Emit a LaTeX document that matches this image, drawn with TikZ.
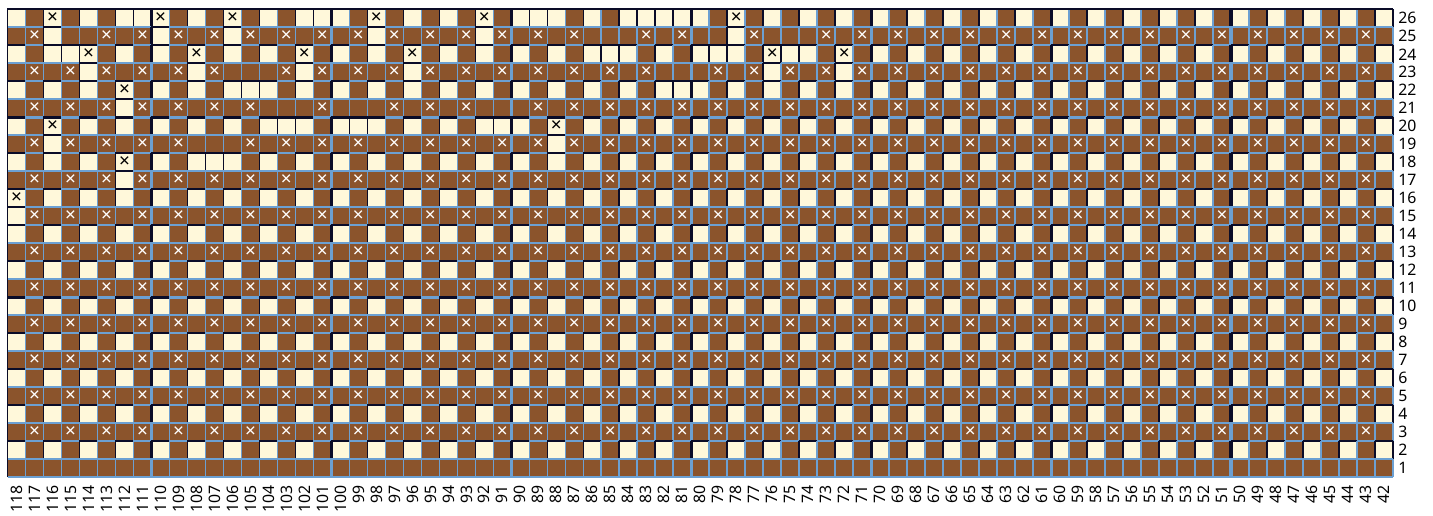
\documentclass[tikz,border=0pt]{standalone}
\usepackage{fontspec}
\setmainfont{Noto Sans}
\usetikzlibrary{positioning}
\definecolor{knitbrown}{RGB}{139,84,44}
\definecolor{knitcream}{RGB}{255,248,218}
\definecolor{gridblue}{RGB}{108,160,210}
\definecolor{cellnavy}{RGB}{10,12,40}

\begin{document}
\begin{tikzpicture}[x=0.5cm, y=0.5cm,
  cell/.style={rectangle, minimum size=0.5cm, inner sep=0pt, outer sep=0pt,
               font=\fontsize{15}{15}\selectfont\bfseries},
  cellB/.style={cell, fill=knitbrown, node contents={}},
  cellX/.style={cell, fill=knitbrown, text=white, node contents={×}},
  cellC/.style={cell, fill=knitcream, node contents={}},
  cellK/.style={cell, fill=knitcream, text=black, node contents={×}},
  edge/.style={line width=1.3pt},
  tenline/.style={line width=2.6pt},
  rowlab/.style={inner sep=0pt, font=\fontsize{12.5}{13}\selectfont},
  collab/.style={inner sep=0pt, rotate=90, font=\fontsize{12.5}{13}\selectfont}
]
\useasboundingbox (-0.417,-2.111) rectangle (79.22,26.517);

% Cells that differ from the plain mosaic ground (row/stitch/type)
\foreach \rw/\cl/\t in {
  26/111/C, 26/101/C, 26/89/C, 26/83/C, 26/81/C,
  26/116/K, 26/110/K, 26/106/K, 26/98/K, 26/92/K, 26/78/K,
  25/116/C, 25/110/C, 25/106/C, 25/98/C, 25/92/C, 25/78/C,
  25/115/B, 25/85/B, 25/79/B, 25/75/B,
  24/115/C, 24/85/C, 24/79/C, 24/75/C,
  24/114/K, 24/108/K, 24/102/K, 24/96/K, 24/76/K, 24/72/K,
  23/114/C, 23/108/C, 23/102/C, 23/96/C, 23/76/C, 23/72/C,
  23/105/B, 23/81/B,
  22/105/C, 22/81/C, 22/112/K,
  21/112/C, 21/103/B, 21/99/B, 21/91/B,
  20/103/C, 20/99/C, 20/91/C, 20/116/K, 20/88/K,
  19/116/C, 19/88/C, 19/107/B,
  18/107/C, 18/112/K,
  17/112/C,
  16/118/K,
  15/118/C}
  {\expandafter\xdef\csname ov\rw-\cl\endcsname{\t}}

% Chart cells, drawn row by row from the top; each cell draws its top and left edge
\foreach \rw in {26,25,...,1}{
  \foreach \cl in {118,117,...,42}{
    \ifcsname ov\rw-\cl\endcsname
      \edef\t{\csname ov\rw-\cl\endcsname}%
    \else
      \ifodd\rw\relax
        \ifnum\rw=1 \def\t{B}\else\ifodd\cl\relax\def\t{X}\else\def\t{B}\fi\fi
      \else
        \ifodd\cl\relax\def\t{B}\else\def\t{C}\fi
      \fi
    \fi
    \def\bcol{gridblue}\if C\t\def\bcol{cellnavy}\fi\if K\t\def\bcol{cellnavy}\fi
    \node (n\rw-\cl) at (118-\cl+0.5, \rw-0.5) [cell\t];
    \pgfmathtruncatemacro\md{mod(\cl,10)}
    \def\lw{edge}\ifnum\md=0 \def\lw{tenline}\fi
    \def\tw{edge}\ifnum\rw=20 \def\tw{tenline}\fi\ifnum\rw=10 \def\tw{tenline}\fi
    \draw[\lw, \bcol] (n\rw-\cl.south west) -- (n\rw-\cl.north west);
    \draw[\tw, \bcol] (n\rw-\cl.north west) -- (n\rw-\cl.north east);
    \ifnum\cl=42 \draw[edge, \bcol] (n\rw-\cl.north east) -- (n\rw-\cl.south east);\fi
  }
}

% Outer frame
\draw[edge, gridblue] (n1-118.south west) -- (n1-42.south east);
\draw[cellnavy, line width=1.4pt] (n1-118.south west) -- (n26-118.north west) -- (n26-42.north east);

% Row numbers on the right
\foreach \rw in {1,...,26}
  \node[rowlab, right=4pt of n\rw-42] (lab\rw) {\rw};

% Stitch numbers below
\foreach \cl in {118,117,...,42}
  \node[collab, below=6pt of n1-\cl, anchor=east] (col\cl) {\cl};

\end{tikzpicture}
\end{document}
